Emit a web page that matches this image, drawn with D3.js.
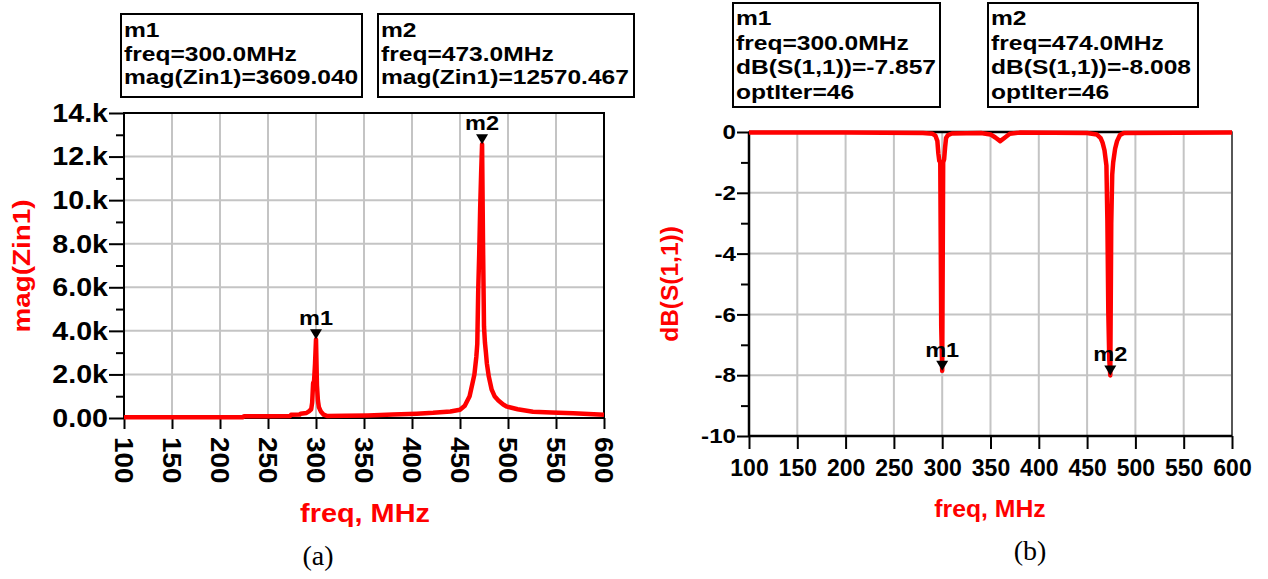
<!DOCTYPE html>
<html>
<head>
<meta charset="utf-8">
<script src="https://cdn.jsdelivr.net/npm/d3@7"></script>
<style>
  body { margin: 0; background: #fff; }
  svg { display: block; font-family: "Liberation Sans", Arial, sans-serif; font-weight: bold; }
</style>
</head>
<body>
<svg id="chart" width="1268" height="579"></svg>
<script>
// ---- (a) input impedance magnitude, mag(Zin1) in ohms ----
const freqA = [100,150,200,224,225,250,273,274,283,284,290,293,295,296,297,298,299,300,301,302,303,305,308,312,
               330,354,380,405,422,440,450,455,460,463,465,467,468,469,470,471,472,473,474,475,476,477,478,480,
               483,486,490,495,499,510,526,545,568,600];
const zinA  = [30,32,35,40,80,85,90,150,155,200,230,320,400,700,1600,1700,2500,3609.040,1500,800,500,300,150,90,
               100,120,160,200,240,300,380,560,1000,1600,2000,2800,3400,5900,7500,9600,11200,12570.467,7900,4200,
               3450,3000,2500,1900,1300,1000,800,620,520,400,290,250,220,150];
const yTicksA = [0,2000,4000,6000,8000,10000,12000,14000];
const yTickLabelsA = ["0.00","2.0k","4.0k","6.0k","8.0k","10.k","12.k","14.k"];
const yMinorA = [1000,3000,5000,7000,9000,11000,13000];
const markerNamesA = ["m1","m2"];
const markerFreqA = [300.0, 473.0];
const markerValA = [3609.040, 12570.467];

// ---- (b) reflection coefficient, dB(S(1,1)) ----
const freqB = [100,200,280,290,293,295,296,297,298,299,300,301,302,303,304,306,310,340,350,355,360,365,370,380,
               450,460,464,466,468,470,471,472,473,474,475,476,477,479,481,484,488,600];
const s11B  = [-0.02,-0.02,-0.03,-0.06,-0.12,-0.3,-0.7,-0.95,-1.0,-6.4,-7.857,-1.0,-0.9,-0.5,-0.2,-0.1,-0.05,-0.03,-0.08,-0.18,-0.3,-0.18,-0.06,-0.02,
               -0.03,-0.08,-0.2,-0.35,-0.6,-1.1,-2.9,-6.0,-7.5,-8.008,-3.0,-1.4,-1.0,-0.55,-0.3,-0.1,-0.03,-0.02];
const yTicksB = [0,-2,-4,-6,-8,-10];
const yMinorB = [-1,-3,-5,-7,-9];
const markerNamesB = ["m1","m2"];
const markerFreqB = [300.0, 474.0];
const markerValB = [-7.857, -8.008];
const optIterB = [46, 46];

const freqTicks = [100,150,200,250,300,350,400,450,500,550,600];

const RED = "#ff0000", GRID = "#c4c4c4";
const svg = d3.select("#chart");

// widen text to the chart's stretched Arial look
function stretch(sel, k) {
  sel.each(function () {
    const w = this.getComputedTextLength();
    d3.select(this).attr("textLength", w * k).attr("lengthAdjust", "spacingAndGlyphs");
  });
}

function styleAxis(g, size) {
  g.attr("font-family", null).attr("font-size", size);
  g.select(".domain").remove();
  g.selectAll(".tick line").attr("stroke", "#000").attr("stroke-width", 2);
  g.selectAll("text").attr("fill", "#000");
}

function markerBox(x, y, w, h, lines, lineH, firstBase) {
  const g = svg.append("g");
  g.append("rect").attr("x", x).attr("y", y).attr("width", w).attr("height", h)
    .attr("fill", "#fff").attr("stroke", "#000").attr("stroke-width", 2);
  const t = g.selectAll("text").data(lines).join("text")
    .attr("x", x + 3).attr("y", (d, i) => firstBase + i * lineH)
    .attr("font-size", 21).attr("fill", "#000").text(d => d);
  stretch(t, 1.17);
}

function drawMarker(g, px, py, name) {
  g.append("path")
    .attr("d", `M${px - 6},${py - 10}L${px + 6},${py - 10}L${px},${py}Z`)
    .attr("fill", "#000");
  const t = g.append("text").attr("x", px).attr("y", py - 14)
    .attr("text-anchor", "middle").attr("font-size", 21).attr("fill", "#000").text(name);
  stretch(t, 1.12);
}

// ================= (a) =================
{
  const L = 124, R = 604, T = 113, B = 418;
  const x = d3.scaleLinear().domain([100, 600]).range([L, R]);
  const y = d3.scaleLinear().domain([0, 14000]).range([B, T]);
  const g = svg.append("g");

  // grid
  g.append("g").selectAll("line").data(freqTicks).join("line")
    .attr("x1", d => x(d)).attr("x2", d => x(d)).attr("y1", T).attr("y2", B)
    .attr("stroke", GRID).attr("stroke-width", 2);
  g.append("g").selectAll("line").data(yTicksA).join("line")
    .attr("x1", L).attr("x2", R).attr("y1", d => y(d)).attr("y2", d => y(d))
    .attr("stroke", GRID).attr("stroke-width", 2);

  // frame
  g.append("rect").attr("x", L).attr("y", T).attr("width", R - L).attr("height", B - T)
    .attr("fill", "none").attr("stroke", "#000").attr("stroke-width", 2);

  // y axis: major + minor ticks
  const ya = g.append("g").attr("transform", `translate(${L},0)`)
    .call(d3.axisLeft(y).tickValues(yTicksA).tickSize(15).tickPadding(1)
      .tickFormat((d, i) => yTickLabelsA[i]));
  styleAxis(ya, 26);
  stretch(ya.selectAll("text"), 1.1);
  const ym = g.append("g").attr("transform", `translate(${L},0)`)
    .call(d3.axisLeft(y).tickValues(yMinorA).tickSize(8).tickFormat(""));
  styleAxis(ym, 10);

  // x axis with vertical labels
  const xa = g.append("g").attr("transform", `translate(0,${B})`)
    .call(d3.axisBottom(x).tickValues(freqTicks).tickSize(11).tickFormat(d3.format("d")));
  styleAxis(xa, 26);
  xa.selectAll("text")
    .attr("y", 0).attr("x", 19).attr("dy", "0.35em")
    .attr("transform", "rotate(90)").attr("text-anchor", "start");
  stretch(xa.selectAll("text"), 1.07);

  // curve
  const line = d3.line().x((d, i) => x(freqA[i])).y(d => y(d));
  g.append("path").datum(zinA).attr("d", line)
    .attr("fill", "none").attr("stroke", RED).attr("stroke-width", 4.5)
    .attr("stroke-linejoin", "round");

  // markers
  markerNamesA.forEach((n, i) => drawMarker(g, x(markerFreqA[i]), y(markerValA[i]), n));

  // axis titles
  const xt = g.append("text").attr("x", 365).attr("y", 522).attr("text-anchor", "middle")
    .attr("font-size", 26).attr("fill", RED).text("freq, MHz");
  stretch(xt, 1.11);
  const yt = g.append("text").attr("transform", "translate(22,266) rotate(-90)").attr("dy", "0.35em")
    .attr("text-anchor", "middle").attr("font-size", 23).attr("fill", RED).text("mag(Zin1)");
  stretch(yt, 1.21);

  // marker readouts
  markerBox(121, 14, 241, 83,
    [markerNamesA[0], `freq=${markerFreqA[0].toFixed(1)}MHz`, `mag(Zin1)=${markerValA[0].toFixed(3)}`], 23.5, 37);
  markerBox(378, 14, 256, 83,
    [markerNamesA[1], `freq=${markerFreqA[1].toFixed(1)}MHz`, `mag(Zin1)=${markerValA[1].toFixed(3)}`], 23.5, 37);

  svg.append("text").attr("x", 318).attr("y", 565).attr("text-anchor", "middle")
    .style("font-family", "'Liberation Serif','Times New Roman',serif").style("font-weight", "normal")
    .attr("font-size", 28).attr("fill", "#000").text("(a)");
}

// ================= (b) =================
{
  const L = 749, R = 1232, T = 132, B = 436;
  const x = d3.scaleLinear().domain([100, 600]).range([L, R]);
  const y = d3.scaleLinear().domain([-10, 0]).range([B, T]);
  const g = svg.append("g");

  g.append("g").selectAll("line").data(freqTicks).join("line")
    .attr("x1", d => x(d)).attr("x2", d => x(d)).attr("y1", T).attr("y2", B)
    .attr("stroke", GRID).attr("stroke-width", 2);
  g.append("g").selectAll("line").data(yTicksB).join("line")
    .attr("x1", L).attr("x2", R).attr("y1", d => y(d)).attr("y2", d => y(d))
    .attr("stroke", GRID).attr("stroke-width", 2);

  g.append("rect").attr("x", L).attr("y", T).attr("width", R - L).attr("height", B - T)
    .attr("fill", "none").attr("stroke", "#333").attr("stroke-width", 1.5);
  g.append("line").attr("x1", L).attr("x2", L).attr("y1", T).attr("y2", B)
    .attr("stroke", "#000").attr("stroke-width", 2.5);
  g.append("line").attr("x1", L).attr("x2", R).attr("y1", B).attr("y2", B)
    .attr("stroke", "#000").attr("stroke-width", 2.5);
  g.append("line").attr("x1", L).attr("x2", R).attr("y1", T).attr("y2", T)
    .attr("stroke", "#000").attr("stroke-width", 2.5);

  const ya = g.append("g").attr("transform", `translate(${L},0)`)
    .call(d3.axisLeft(y).tickValues(yTicksB).tickSize(12).tickPadding(1).tickFormat(d3.format("d")));
  styleAxis(ya, 21);
  ya.selectAll("text").text(d => d === 0 ? "0" : String(d));
  stretch(ya.selectAll("text"), 1.15);
  const ym = g.append("g").attr("transform", `translate(${L},0)`)
    .call(d3.axisLeft(y).tickValues(yMinorB).tickSize(8).tickFormat(""));
  styleAxis(ym, 10);

  const xa = g.append("g").attr("transform", `translate(0,${B})`)
    .call(d3.axisBottom(x).tickValues(freqTicks).tickSize(13).tickFormat(d3.format("d")));
  styleAxis(xa, 23);
  xa.selectAll("text").attr("y", 40).attr("dy", null);
  stretch(xa.selectAll("text"), 1.0);

  const line = d3.line().x((d, i) => x(freqB[i])).y(d => y(d));
  g.append("path").datum(s11B).attr("d", line)
    .attr("fill", "none").attr("stroke", RED).attr("stroke-width", 4.5)
    .attr("stroke-linejoin", "round");

  markerNamesB.forEach((n, i) => drawMarker(g, x(markerFreqB[i]), y(markerValB[i]), n));

  const xt = g.append("text").attr("x", 990).attr("y", 517).attr("text-anchor", "middle")
    .attr("font-size", 24).attr("fill", RED).text("freq, MHz");
  stretch(xt, 1.03);
  const yt = g.append("text").attr("transform", "translate(670,284) rotate(-90)").attr("dy", "0.35em")
    .attr("text-anchor", "middle").attr("font-size", 24).attr("fill", RED).text("dB(S(1,1))");
  stretch(yt, 1.02);

  markerBox(733, 3, 207, 104,
    [markerNamesB[0], `freq=${markerFreqB[0].toFixed(1)}MHz`, `dB(S(1,1))=${markerValB[0].toFixed(3)}`, `optIter=${optIterB[0]}`], 24.5, 25);
  markerBox(988, 3, 210, 104,
    [markerNamesB[1], `freq=${markerFreqB[1].toFixed(1)}MHz`, `dB(S(1,1))=${markerValB[1].toFixed(3)}`, `optIter=${optIterB[1]}`], 24.5, 25);

  svg.append("text").attr("x", 1030).attr("y", 560).attr("text-anchor", "middle")
    .style("font-family", "'Liberation Serif','Times New Roman',serif").style("font-weight", "normal")
    .attr("font-size", 28).attr("fill", "#000").text("(b)");
}
</script>
</body>
</html>
